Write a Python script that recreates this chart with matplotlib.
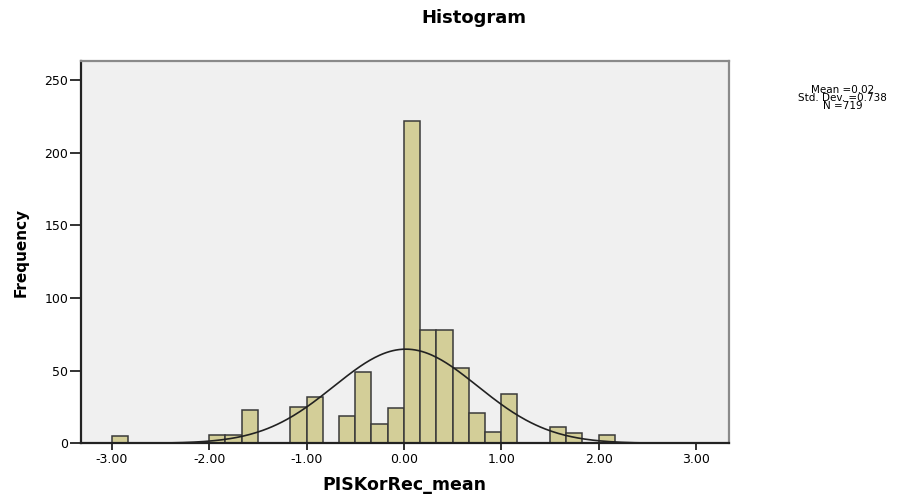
import numpy as np
import matplotlib
matplotlib.use("Agg")
import matplotlib.pyplot as plt

# ---- data ----
bin_left_sixths = [-18, -12, -11, -10, -7, -6, -4, -3, -2, -1,
                   0, 1, 2, 3, 4, 5, 6, 9, 10, 12]
counts = [5, 6, 6, 23, 25, 32, 19, 49, 13, 24,
          222, 78, 78, 52, 21, 8, 34, 11, 7, 6]
mean_val = 0.02
std_val = 0.738
n_val = 719
x_ticks = [-3, -2, -1, 0, 1, 2, 3]
y_ticks = [0, 50, 100, 150, 200, 250]

bin_width = 1 / 6
plt.rcParams['font.family'] = ['DejaVu Sans']

fig = plt.figure(figsize=(9.10, 4.96), dpi=100)
fig.patch.set_facecolor('white')
ax = fig.add_axes([0.0887, 0.1062, 0.7124, 0.7708])
ax.set_facecolor('#F0F0F0')

lefts = np.array(bin_left_sixths) / 6.0
ax.bar(lefts, counts, width=bin_width, align='edge',
       color='#D3CE98', edgecolor='#3a3a3a', linewidth=1.1, zorder=2)

xs = np.linspace(-3.32, 3.34, 400)
pdf = np.exp(-0.5 * ((xs - mean_val) / std_val) ** 2) / (std_val * np.sqrt(2 * np.pi))
ax.plot(xs, n_val * bin_width * pdf, color='#222222', linewidth=1.2, zorder=3)

ax.set_xlim(-3.32, 3.34)
ax.set_ylim(0, 263)
ax.set_xticks(x_ticks)
ax.set_xticklabels([f"{t:.2f}" for t in x_ticks], fontsize=9)
ax.set_yticks(y_ticks)
ax.set_yticklabels([str(t) for t in y_ticks], fontsize=9)
ax.tick_params(axis='y', length=8, width=1.3, pad=1, color='#222222')
ax.tick_params(axis='x', length=5, width=1.3, pad=2, color='#222222')

for s in ['left', 'bottom']:
    ax.spines[s].set_color('#222222')
    ax.spines[s].set_linewidth(1.6)
for s in ['top', 'right']:
    ax.spines[s].set_color('#8a8a8a')
    ax.spines[s].set_linewidth(1.6)

fig.text(474 / 910, 1 - 22.7 / 496, 'Histogram', ha='center', va='baseline',
         fontsize=13, fontweight='bold')
fig.text(404 / 910, 1 - 490 / 496, 'PISKorRec_mean', ha='center', va='baseline',
         fontsize=12.5, fontweight='bold')
fig.text(21 / 910, 1 - 252 / 496, 'Frequency', ha='center', va='center',
         rotation=90, fontsize=11, fontweight='bold')

stats_lines = [f"Mean ={mean_val:.2f}", f"Std. Dev. ={std_val:.3f}", f"N ={n_val}"]
fig.text(842.7 / 910, 1 - 98 / 496, "\n".join(stats_lines), ha='center', va='center',
         multialignment='center', fontsize=7.5, linespacing=0.7)

fig.savefig('out.png', dpi=100)
